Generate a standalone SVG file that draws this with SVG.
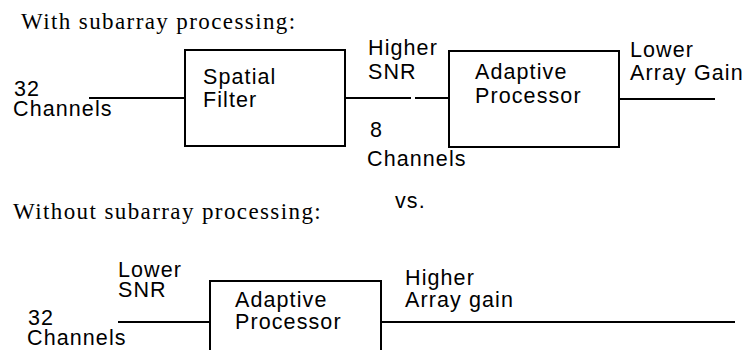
<svg xmlns="http://www.w3.org/2000/svg" width="745" height="350" viewBox="0 0 745 350">
<style>
.t{font-family:"Liberation Serif","Times New Roman",serif;font-size:23px;letter-spacing:1.4px;fill:#000}
.l{font-family:"Liberation Sans",Arial,Helvetica,sans-serif;font-size:21.5px;letter-spacing:1.1px;fill:#000}
.box{fill:none;stroke:#000;stroke-width:2}
.c{stroke:#000;stroke-width:1.8;fill:none}
</style>
<rect width="745" height="350" fill="#fff"/>
<text class="t" x="21" y="29">With subarray processing:</text>
<text class="t" x="13" y="219">Without subarray processing:</text>
<g id="connectors">
<line class="c" x1="89" y1="98" x2="185" y2="98"/>
<line class="c" x1="345" y1="98" x2="411" y2="98"/>
<line class="c" x1="415" y1="98" x2="449" y2="98"/>
<line class="c" x1="619" y1="99" x2="715" y2="99"/>
<line class="c" x1="118" y1="322" x2="210" y2="322"/>
<line class="c" x1="381" y1="322" x2="735" y2="322"/>
</g>
<g id="spatial-filter">
<rect class="box" x="185" y="50" width="160" height="96"/>
<text class="l" x="203" y="84">Spatial</text>
<text class="l" x="203" y="107">Filter</text>
</g>
<g id="adaptive-processor-1">
<rect class="box" x="449" y="51" width="170" height="96"/>
<text class="l" x="475" y="79">Adaptive</text>
<text class="l" x="475" y="103">Processor</text>
</g>
<g id="adaptive-processor-2">
<rect class="box" x="210" y="281" width="171" height="90"/>
<text class="l" x="235" y="307">Adaptive</text>
<text class="l" x="235" y="329">Processor</text>
</g>
<g id="labels">
<text class="l" x="14" y="96">32</text>
<text class="l" x="13" y="116">Channels</text>
<text class="l" x="368" y="55">Higher</text>
<text class="l" x="368" y="79">SNR</text>
<text class="l" x="370" y="137">8</text>
<text class="l" x="367" y="166">Channels</text>
<text class="l" x="630" y="57">Lower</text>
<text class="l" x="630" y="80">Array Gain</text>
<text class="l" x="395" y="208">vs.</text>
<text class="l" x="118" y="277">Lower</text>
<text class="l" x="118" y="297">SNR</text>
<text class="l" x="28" y="325">32</text>
<text class="l" x="27" y="345">Channels</text>
<text class="l" x="405" y="285">Higher</text>
<text class="l" x="405" y="307">Array gain</text>
</g>
</svg>
